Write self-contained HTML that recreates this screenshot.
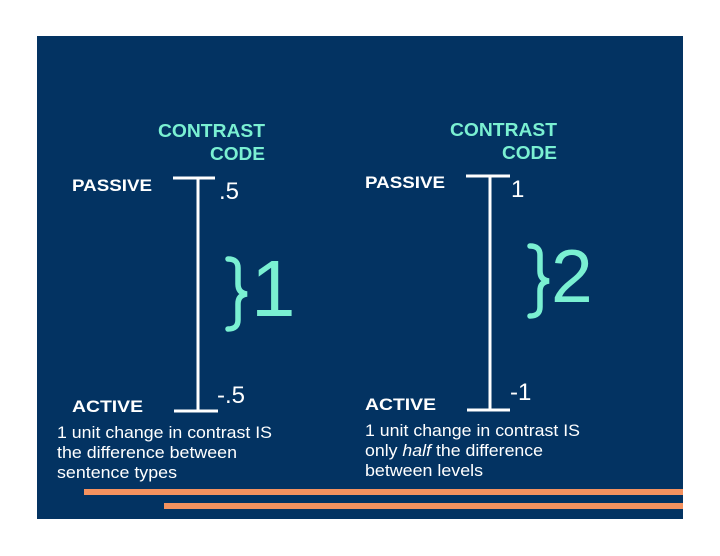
<!DOCTYPE html>
<html><head><meta charset="utf-8"><style>
body{margin:0;background:#fff;}
svg{display:block;}
text{font-family:"Liberation Sans",Arial,sans-serif;}
</style></head><body>
<svg width="720" height="556" viewBox="0 0 720 556" xmlns="http://www.w3.org/2000/svg">
<rect x="0" y="0" width="720" height="556" fill="#fff"/>
<rect x="37" y="36" width="646" height="483" fill="#033362"/>
<rect x="84" y="489" width="599" height="6" fill="#f4925f"/>
<rect x="164" y="503" width="519" height="6" fill="#f4925f"/>

<g fill="#7af0d2" font-weight="bold" font-size="18">
<text x="158" y="137" textLength="107" lengthAdjust="spacingAndGlyphs">CONTRAST</text>
<text x="210" y="160" textLength="55" lengthAdjust="spacingAndGlyphs">CODE</text>
<text x="450" y="136" textLength="107" lengthAdjust="spacingAndGlyphs">CONTRAST</text>
<text x="502" y="159" textLength="55" lengthAdjust="spacingAndGlyphs">CODE</text>
</g>
<g fill="#fff" font-weight="bold" font-size="17">
<text x="72" y="191" textLength="80" lengthAdjust="spacingAndGlyphs">PASSIVE</text>
<text x="72" y="412" textLength="71" lengthAdjust="spacingAndGlyphs">ACTIVE</text>
<text x="365" y="188" textLength="80" lengthAdjust="spacingAndGlyphs">PASSIVE</text>
<text x="365" y="410" textLength="71" lengthAdjust="spacingAndGlyphs">ACTIVE</text>
</g>
<g stroke="#fff" stroke-width="3" fill="none">
<line x1="173" y1="178" x2="215" y2="178"/>
<line x1="198" y1="178" x2="198" y2="411"/>
<line x1="174" y1="411" x2="218" y2="411"/>
<line x1="466" y1="176" x2="510" y2="176"/>
<line x1="490" y1="176" x2="490" y2="410"/>
<line x1="467" y1="410" x2="510" y2="410"/>
</g>
<g fill="#fff" font-size="24">
<text x="219" y="199">.5</text>
<text x="217" y="403">-.5</text>
<text x="511" y="197">1</text>
<text x="510" y="400">-1</text>
</g>
<g stroke="#7af0d2" stroke-width="5.5" fill="none" stroke-linecap="round">
<path d="M228 259 Q238 259 238 268 L238 284 Q238 293 247 294 Q238 295 238 304 L238 320 Q238 329 228 329"/>
<path d="M530 246 Q540 246 540 255 L540 271 Q540 280 549 281 Q540 282 540 291 L540 307 Q540 316 530 316"/>
</g>
<g fill="#7af0d2" font-size="80">
<text x="251" y="316">1</text>
<text x="551" y="302" font-size="75">2</text>
</g>
<g fill="#fff" font-size="17">
<text x="57" y="438" textLength="215" lengthAdjust="spacingAndGlyphs">1 unit change in contrast IS</text>
<text x="57" y="458" textLength="180" lengthAdjust="spacingAndGlyphs">the difference between</text>
<text x="57" y="478" textLength="120" lengthAdjust="spacingAndGlyphs">sentence types</text>
<text x="365" y="436" textLength="215" lengthAdjust="spacingAndGlyphs">1 unit change in contrast IS</text>
<text x="365" y="456" textLength="178" lengthAdjust="spacingAndGlyphs">only <tspan font-style="italic">half</tspan> the difference</text>
<text x="365" y="476" textLength="118" lengthAdjust="spacingAndGlyphs">between levels</text>
</g>
</svg>
</body></html>
